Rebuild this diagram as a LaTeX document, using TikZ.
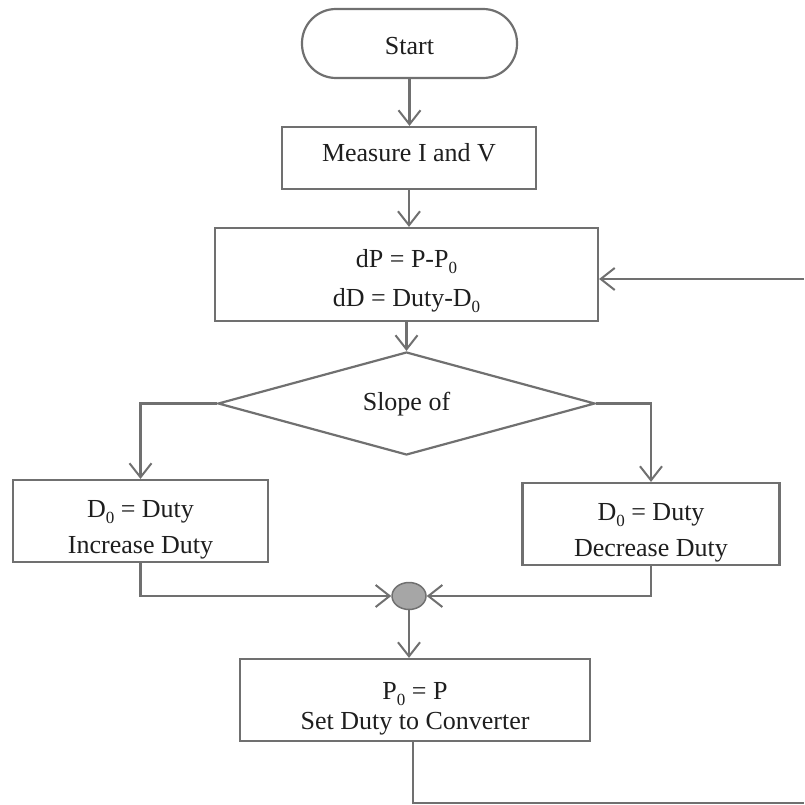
\documentclass[tikz,border=0pt]{standalone}
\usepackage{fontspec}
\setmainfont{Liberation Serif}
\usetikzlibrary{arrows.meta,shapes.geometric}
\newcommand{\lowidx}[1]{\raisebox{-0.5ex}{\fontsize{17}{17}\selectfont #1}}
\newcommand{\boxtext}[2]{\raisebox{\dimexpr-#1-6.5pt\relax}[0pt][0pt]{\begin{tabular}{@{}c@{}}#2\end{tabular}}}
\definecolor{linegray}{HTML}{707070}
\definecolor{textblack}{HTML}{1E1E1E}
\tikzset{
  flow/.style={draw=linegray, line width=2.2pt, text=textblack, font=\fontsize{26}{36}\selectfont, align=center, inner sep=0pt},
  boxnode/.style={flow, rectangle},
  conn/.style={draw=linegray, line width=2.2pt},
  arr/.style={conn, -{Straight Barb[length=14pt, width=22pt, line width=2pt]}}
}
\begin{document}
\begin{tikzpicture}[x=1pt, y=-1pt]
\useasboundingbox (0,0) rectangle (804,805);
\node[boxnode, rounded corners=34pt, minimum width=215pt, minimum height=69pt] (start) at (409.5,43.5) {\boxtext{4pt}{Start}};
\node[boxnode, minimum width=254pt, minimum height=62pt] (meas) at (409,158) {\boxtext{-4pt}{Measure I and V}};
\node[boxnode, minimum width=383pt, minimum height=93pt, font=\fontsize{26}{39}\selectfont] (calc) at (406.5,274.5) {\boxtext{4pt}{dP = P-P\lowidx{0}\\dD = Duty-D\lowidx{0}}};
\node[flow, shape=diamond, minimum width=377pt, minimum height=103pt] (dec) at (406.5,403.5) {\boxtext{0pt}{Slope of}};
\node[boxnode, minimum width=255pt, minimum height=82pt] (left) at (140.5,521) {\boxtext{7pt}{D\lowidx{0} = Duty\\Increase Duty}};
\node[boxnode, minimum width=257pt, minimum height=82pt] (right) at (651,524) {\boxtext{7pt}{D\lowidx{0} = Duty\\Decrease Duty}};
\node[draw=linegray, line width=1.5pt, fill=gray!70, ellipse, minimum width=34pt, minimum height=27pt, inner sep=0pt] (junc) at (409,596) {};
\node[boxnode, minimum width=350pt, minimum height=82pt, font=\fontsize{26}{30}\selectfont] (pzero) at (415,700) {\boxtext{8pt}{P\lowidx{0} = P\\Set Duty to Converter}};
\coordinate (retb) at (804,803);
\coordinate (rett) at (804,279);

\draw[arr] (start.south) -- (start.south |- meas.north);
\draw[arr] (meas.south) -- (meas.south |- calc.north);
\draw[arr] (calc.south) -- (dec.north);
\draw[arr] (dec.west) -| (left.north);
\draw[arr] (dec.east) -| (right.north);
\draw[arr] (left.south) |- (junc.west);
\draw[arr] (right.south) |- (junc.east);
\draw[arr] (junc.south) -- (junc.south |- pzero.north);
\draw[conn] ([xshift=-2pt]pzero.south) |- (retb);
\draw[arr] (rett) -- (rett -| calc.east);
\end{tikzpicture}
\end{document}
